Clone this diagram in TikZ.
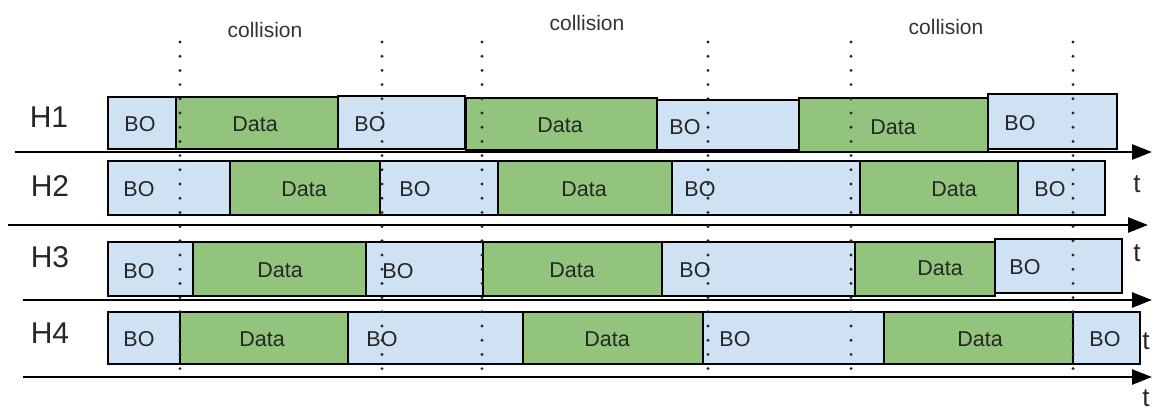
\documentclass[tikz,border=0pt]{standalone}
\usepackage{fontspec}
\setmainfont{Liberation Sans}
\usetikzlibrary{arrows.meta}
\definecolor{boblue}{HTML}{CFE2F3}
\definecolor{datagreen}{HTML}{93C47D}
\newcommand\slotbox[6]{%
  \node[#2, anchor=north west, minimum width={(#5-#3)*1pt}, minimum height={(#6-#4)*1pt}] (#1) at (#3,#4) {};}
\tikzset{
  bobox/.style={draw=black, fill=boblue, line width=2.2pt, inner sep=0pt, outer sep=0pt, rectangle},
  databox/.style={draw=black, fill=datagreen, line width=2.2pt, inner sep=0pt, outer sep=0pt, rectangle},
  lbl/.style={font=\fontsize{21.5}{24}\selectfont, inner sep=0pt, text=black!85},
  hlbl/.style={font=\fontsize{30}{34}\selectfont, inner sep=0pt, text=black!85},
  tlbl/.style={font=\fontsize{26}{30}\selectfont, inner sep=0pt, text=black!85},
  collbl/.style={font=\fontsize{21}{24}\selectfont, inner sep=0pt, text=black!80},
  axis/.style={line width=2.6pt, -{Triangle[length=20pt,width=15pt]}},
  dotline/.style={line width=3.2pt, line cap=round, dash pattern=on 0pt off 14.2pt, black!85},
}
\begin{document}
\begin{tikzpicture}[x=1pt,y=-1pt]
\useasboundingbox (0,0) rectangle (1153,410);
% ---- H1 row
\slotbox{h1a}{bobox}{108}{97}{176}{149}
\slotbox{h1b}{databox}{176}{97}{338}{149}
\slotbox{h1c}{bobox}{338}{96}{465}{149}
\slotbox{h1d}{databox}{466}{98}{657}{150}
\slotbox{h1e}{bobox}{657}{100}{799}{150}
\slotbox{h1f}{databox}{799}{98}{988}{152}
\slotbox{h1g}{bobox}{988}{94}{1117}{149}
% ---- H2 row
\slotbox{h2a}{bobox}{108}{161}{230}{215}
\slotbox{h2b}{databox}{230}{161}{380}{215}
\slotbox{h2c}{bobox}{380}{161}{498}{215}
\slotbox{h2d}{databox}{498}{161}{672}{215}
\slotbox{h2e}{bobox}{672}{161}{860}{215}
\slotbox{h2f}{databox}{860}{161}{1018}{215}
\slotbox{h2g}{bobox}{1018}{161}{1105}{215}
% ---- H3 row
\slotbox{h3a}{bobox}{108}{242}{193}{296}
\slotbox{h3b}{databox}{193}{242}{366}{296}
\slotbox{h3c}{bobox}{366}{242}{483}{296}
\slotbox{h3d}{databox}{483}{242}{662}{296}
\slotbox{h3e}{bobox}{662}{242}{855}{296}
\slotbox{h3f}{databox}{855}{242}{995}{296}
\slotbox{h3g}{bobox}{995}{239}{1122}{293}
% ---- H4 row
\slotbox{h4a}{bobox}{108}{312}{180}{364}
\slotbox{h4b}{databox}{180}{312}{348}{364}
\slotbox{h4c}{bobox}{348}{312}{523}{364}
\slotbox{h4d}{databox}{523}{312}{703}{364}
\slotbox{h4e}{bobox}{703}{312}{884}{364}
\slotbox{h4f}{databox}{884}{312}{1073}{364}
\slotbox{h4g}{bobox}{1073}{312}{1140}{364}
% ---- labels H1
\node[lbl] (t1a) at (140,124) {BO};
\node[lbl] (t1b) at (255,124) {Data};
\node[lbl] (t1c) at (370,124) {BO};
\node[lbl] (t1d) at (560,125) {Data};
\node[lbl] (t1e) at (685,127) {BO};
\node[lbl] (t1f) at (893,127) {Data};
\node[lbl] (t1g) at (1020,123) {BO};
% ---- labels H2
\node[lbl] (t2a) at (139,189) {BO};
\node[lbl] (t2b) at (304,189) {Data};
\node[lbl] (t2c) at (415,189) {BO};
\node[lbl] (t2d) at (584,189) {Data};
\node[lbl] (t2e) at (700,189) {BO};
\node[lbl] (t2f) at (954,189) {Data};
\node[lbl] (t2g) at (1050,189) {BO};
% ---- labels H3
\node[lbl] (t3a) at (139,271) {BO};
\node[lbl] (t3b) at (280,270) {Data};
\node[lbl] (t3c) at (398,271) {BO};
\node[lbl] (t3d) at (572,270) {Data};
\node[lbl] (t3e) at (695,270) {BO};
\node[lbl] (t3f) at (940,268) {Data};
\node[lbl] (t3g) at (1025,267) {BO};
% ---- labels H4
\node[lbl] (t4a) at (139,339) {BO};
\node[lbl] (t4b) at (262,339) {Data};
\node[lbl] (t4c) at (382,339) {BO};
\node[lbl] (t4d) at (607,339) {Data};
\node[lbl] (t4e) at (735,339) {BO};
\node[lbl] (t4f) at (980,339) {Data};
\node[lbl] (t4g) at (1105,339) {BO};
% ---- host labels
\node[hlbl] (H1) at (49,117) {H1};
\node[hlbl] (H2) at (50,186) {H2};
\node[hlbl] (H3) at (50,257) {H3};
\node[hlbl] (H4) at (50,333) {H4};
% ---- collision labels
\node[collbl] (c1) at (265,30) {collision};
\node[collbl] (c2) at (587,23) {collision};
\node[collbl] (c3) at (946,27) {collision};
% ---- axes
\coordinate (a1s) at (15,152);  \coordinate (a1e) at (1152,152);
\coordinate (a2s) at (8,225);   \coordinate (a2e) at (1148,225);
\coordinate (a3s) at (23,300);  \coordinate (a3e) at (1152,300);
\coordinate (a4s) at (23,377);  \coordinate (a4e) at (1152,377);
\draw[axis] (a1s) -- (a1e);
\draw[axis] (a2s) -- (a2e);
\draw[axis] (a3s) -- (a3e);
\draw[axis] (a4s) -- (a4e);
\node[tlbl] (tt1) at (1137,184) {t};
\node[tlbl] (tt2) at (1137,253) {t};
\node[tlbl] (tt3) at (1146,341) {t};
\node[tlbl] (tt4) at (1146,398) {t};
% ---- dotted collision markers
\foreach \i/\x in {1/180,2/382,3/482,4/708,5/851,6/1073}{
  \coordinate (d\i t) at (\x,42);
  \coordinate (d\i b) at (\x,372);
  \draw[dotline] (d\i t) -- (d\i b);
}
\end{tikzpicture}
\end{document}
